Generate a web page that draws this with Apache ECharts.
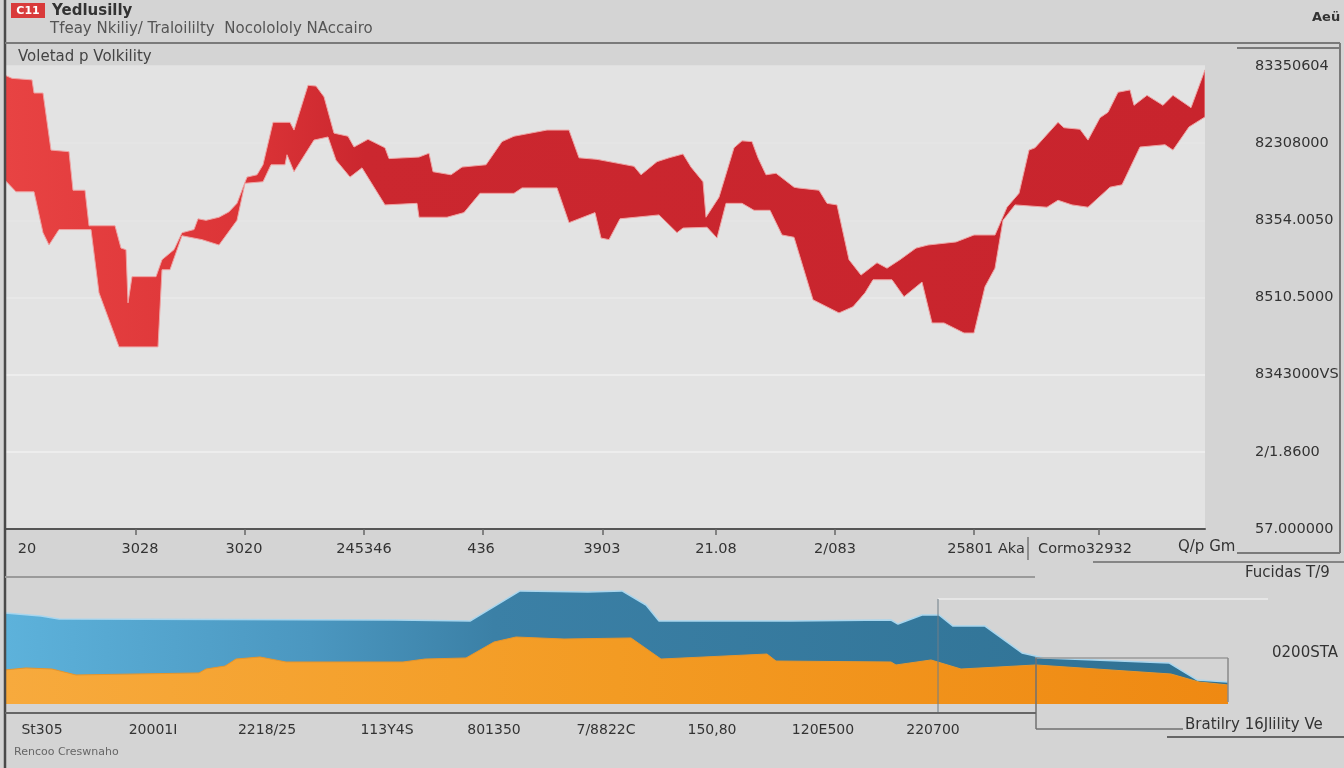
<!DOCTYPE html>
<html><head><meta charset="utf-8">
<script src="https://cdn.jsdelivr.net/npm/echarts@6/dist/echarts.min.js"></script>
<style>html,body{margin:0;padding:0;background:#d4d4d4;}#c{width:1344px;height:768px;}</style>
</head><body><div id="c"></div>
<script>
// ---- Top chart: volatility band (upper / lower edges), x = time units, y = value units
const upperEdge = [
 [0,588],[0.7,584],[2.7,582],[2.9,565],[3.8,565],[4.6,491],[6.4,489],[6.8,439],[8.0,439],[8.4,393],
 [11.0,393],[11.6,364],[12.1,362],[12.3,293],[12.7,327],[15.1,327],[15.7,349],[16.9,362],[17.7,384],
 [18.9,388],[19.3,402],[20.1,400],[21.4,404],[22.4,411],[23.2,422],[24.2,456],[25.2,459],[25.8,472],
 [26.8,527],[28.5,527],[28.9,517],[30.3,575],[31.1,574],[31.9,560],[32.9,513],[34.3,509],[34.9,495],
 [36.3,505],[38.0,494],[38.4,480],[41.4,482],[42.4,487],[42.8,463],[44.6,459],[45.7,469],[48.1,472],
 [49.7,502],[50.9,509],[54.2,517],[56.4,517],[57.4,481],[59.2,479],[62.9,470],[63.6,459],[65.2,476],
 [66.4,481],[67.8,486],[68.6,469],[69.8,450],[70.1,404],[71.4,430],[72.9,494],[73.7,503],[74.7,502],
 [75.3,481],[76.1,459],[77.1,461],[78.9,443],[79.3,442],[81.4,439],[82.2,422],[83.2,420],[84.4,349],
 [85.6,329],[87.2,345],[88.2,338],[89.5,349],[91.1,364],[92.3,368],[95.1,372],[96.9,381],[99.0,381],
 [100.2,417],[101.4,435],[102.4,491],[103.0,494],[105.3,527],[105.9,520],[107.5,518],[108.3,504],
 [109.5,533],[110.3,540],[111.3,566],[112.5,569],[112.9,549],[114.2,562],[115.8,549],[116.8,562],
 [118.6,546],[120.0,595]
];
const lowerEdge = [
 [0,452],[1.1,437],[2.9,437],[3.8,384],[4.4,368],[5.4,388],[8.6,388],[9.4,306],[11.4,236],[15.3,236],
 [15.7,336],[16.5,336],[17.7,380],[19.7,375],[21.4,368],[23.2,400],[24.0,448],[25.8,450],[26.6,472],
 [28.0,472],[28.2,485],[28.9,463],[30.9,504],[32.3,508],[33.1,478],[34.5,456],[35.7,468],[38.0,420],
 [41.2,422],[41.4,404],[44.2,404],[45.9,410],[47.5,435],[50.9,435],[51.7,442],[55.2,442],[56.4,397],
 [59.0,410],[59.6,377],[60.4,375],[61.5,402],[65.4,407],[67.2,384],[67.8,390],[70.2,391],[71.2,377],
 [72.1,422],[73.7,422],[74.9,413],[76.5,413],[77.7,381],[78.9,378],[80.8,297],[83.4,280],[84.8,288],
 [86.0,306],[86.8,323],[88.7,323],[89.9,301],[91.7,320],[92.7,267],[93.9,267],[95.9,254],[96.9,254],
 [98.0,314],[99.0,338],[99.8,400],[101.0,420],[104.2,417],[105.3,426],[106.7,420],[108.3,417],
 [110.5,443],[111.7,446],[113.5,495],[116.0,498],[116.8,491],[118.4,521],[120.0,534]
];
const yTickLabels = ['57.000000','2/1.8600','8343000VS','8510.5000','8354.0050','82308000','83350604'];
const topTickPos = [13.1,24.0,35.9,47.8,59.8,71.1,83.0,96.9,109.4];
const topLabelPos = [2.2,13.5,23.9,35.9,47.6,59.7,71.1,83.0,98.1,108.0];
const topLabelText = ['20','3028','3020','245346','436','3903','21.08','2/083','25801 Aka','Cormo32932'];

// ---- Bottom chart: two area series
const blueTop = [
 [0,76.5],[3.6,73.9],[5.4,71.4],[39.0,70.6],[46.5,69.7],[51.5,95.0],[58.3,94.1],[58.5,95.0],[61.7,95.0],
 [64.1,83.2],[65.4,69.7],[78.6,69.7],[88.6,70.6],[89.3,67.2],[91.7,74.8],[93.4,74.8],[94.8,65.5],
 [98.0,65.5],[101.7,42.9],[103.9,38.7],[116.4,34.5],[119.2,20.2],[122.3,18.5]
];
const orangeTop = [
 [0,28.6],[2.1,30.3],[4.7,29.4],[7.1,24.4],[19.4,26.1],[20.1,29.4],[22.0,31.9],[23.1,37.8],[25.5,39.5],
 [28.1,35.3],[39.8,35.3],[42.0,37.8],[46.1,38.7],[48.9,52.1],[51.1,56.3],[55.9,54.6],[62.6,55.5],
 [65.6,37.8],[69.9,39.5],[76.2,42.0],[77.1,36.1],[88.6,35.3],[89.1,32.8],[92.6,37.0],[95.6,29.4],
 [103.1,32.8],[116.6,25.2],[119.4,18.5],[122.3,16.0]
];
const bottomTickPos = [3.7,14.8,26.2,38.2,48.9,60.1,70.7,81.8,92.8];
const bottomLabelText = ['St305','20001I','2218/25','113Y4S','801350','7/8822C','150,80','120E500','220700'];

const FONT = 'DejaVu Sans';
const chart = echarts.init(document.getElementById('c'), null, {renderer:'canvas'});

function ln(x1,y1,x2,y2,color,w){
  return {type:'line', z:100, shape:{x1,y1,x2,y2}, style:{stroke:color, lineWidth:w}};
}
function tx(x,y,text,size,color,bold,align){
  return {type:'text', z:100, x, y, style:{text, fontSize:size, fill:color, fontFamily:FONT,
    fontWeight: bold?'bold':'normal', textVerticalAlign:'middle', textAlign: align||'left'}};
}

const option = {
  backgroundColor:'#d4d4d4',
  animation:false,
  grid:[
    {left:5, right:139, top:66, bottom:239, show:true, backgroundColor:'#e3e3e3', borderWidth:0},
    {left:5, right:116, top:585, bottom:64, show:false}
  ],
  xAxis:[
    {type:'value', gridIndex:0, min:0, max:120, offset:3,
     axisLine:{show:true, lineStyle:{color:'#555', width:2}},
     axisTick:{show:true, customValues:topTickPos, length:6, lineStyle:{color:'#666', width:1.5}},
     axisLabel:{customValues:topLabelPos, margin:10, fontSize:14.5, color:'#333', fontFamily:FONT,
       formatter:(v)=>{const i=topLabelPos.indexOf(v); return i>=0?topLabelText[i]:'';}},
     splitLine:{show:false}},
    {type:'value', gridIndex:1, min:0, max:122.3, offset:9,
     axisLine:{show:false},
     axisTick:{show:true, inside:true, customValues:bottomTickPos, length:9, lineStyle:{color:'#666', width:1.5}},
     axisLabel:{customValues:bottomTickPos, margin:10, fontSize:14, color:'#333', fontFamily:FONT,
       formatter:(v)=>{const i=bottomTickPos.indexOf(v); return i>=0?bottomLabelText[i]:'';}},
     splitLine:{show:false}}
  ],
  yAxis:[
    {type:'value', gridIndex:0, position:'right', min:0, max:600, interval:100,
     axisLine:{show:true, lineStyle:{color:'#8a8a8a', width:2}},
     axisTick:{show:false},
     axisLabel:{margin:50, align:'left', fontSize:14.5, color:'#333', fontFamily:FONT,
       formatter:(v)=>yTickLabels[Math.round(v/100)]},
     splitLine:{show:true, lineStyle:{width:1.5,
       color:['#e3e3e3','#f1f1f1','#f1f1f1','#eaeaea','#e6e6e6','#e6e6e6','#e3e3e3']}}},
    {type:'value', gridIndex:1, min:0, max:100, show:false, splitLine:{show:false}}
  ],
  series:[
    {type:'custom', xAxisIndex:0, yAxisIndex:0, data:[[0,0]], clip:true, z:3,
     renderItem:(params, api)=>{
       const pts = upperEdge.map(p=>api.coord(p)).concat(lowerEdge.slice().reverse().map(p=>api.coord(p)));
       return {type:'polygon', shape:{points:pts}, style:{
         fill:new echarts.graphic.LinearGradient(0,0,1,0,[
           {offset:0,color:'#e84343'},{offset:0.2,color:'#dc3437'},{offset:0.3,color:'#cb272f'},{offset:1,color:'#c8242d'}]),
         stroke:'#eea4a4', lineWidth:1}};
     }},
    {type:'line', xAxisIndex:1, yAxisIndex:1, data:blueTop, showSymbol:false, z:2,
     lineStyle:{width:1.5, color:'#a9d6ee'},
     areaStyle:{opacity:1, color:new echarts.graphic.LinearGradient(0,0,1,0,[
       {offset:0,color:'#5db2db'},{offset:0.25,color:'#4b97c0'},{offset:0.4,color:'#3b80a6'},{offset:1,color:'#2f7193'}])}},
    {type:'line', xAxisIndex:1, yAxisIndex:1, data:orangeTop, showSymbol:false, z:3,
     lineStyle:{width:1, color:'#e8952a'},
     areaStyle:{opacity:1, color:new echarts.graphic.LinearGradient(0,0,1,0,[
       {offset:0,color:'#f7aa3d'},{offset:0.5,color:'#f39b23'},{offset:1,color:'#ef8912'}])}}
  ],
  graphic:[
    ln(5,0,5,768,'#4a4a4a',2.5),
    ln(5,43,1340,43,'#7a7a7a',2),
    ln(1237,48,1340,48,'#7a7a7a',2),
    ln(1340,43,1340,553,'#7a7a7a',2),
    ln(1237,553,1340,553,'#7a7a7a',2),
    ln(1093,562,1344,562,'#858585',2),
    ln(5,577,1035,577,'#9a9a9a',2),
    ln(1028,537,1028,560,'#777',1.5),
    ln(938,599,1268,599,'#e6e6e6',2),
    ln(938,599,938,713,'#6f7f88',1),
    ln(1035,658,1228,658,'#9a9a9a',1.5),
    ln(1228,658,1228,702,'#8a8a8a',1.5),
    ln(1036,658,1036,729,'#707070',1.5),
    ln(1036,729,1183,729,'#707070',1.5),
    ln(1167,737,1344,737,'#666',2),
    ln(5,713,1036,713,'#666',2),
    {type:'rect', z:100, shape:{x:11,y:3,width:34,height:15}, style:{fill:'#d93a3a'}},
    tx(28,11,'C11',11,'#ffffff',true,'center'),
    tx(52,11,'Yedlusilly',15,'#333',true),
    tx(50,29,'Tfeay Nkiliy/ Traloililty  Nocolololy NAccairo',15,'#555',false),
    tx(1312,18,'Aeü',13,'#333',true),
    tx(18,57,'Voletad p Volkility',15,'#444',false),
    tx(1178,547,'Q/p Gm',15,'#333',false),
    tx(1245,573,'Fucidas T/9',15,'#333',false),
    tx(1272,653,'0200STA',15,'#333',false),
    tx(1185,725,'Bratilry 16Jlility Ve',15,'#333',false),
    tx(14,752,'Rencoo Creswnaho',11,'#666',false)
  ]
};
chart.setOption(option);
</script></body></html>
